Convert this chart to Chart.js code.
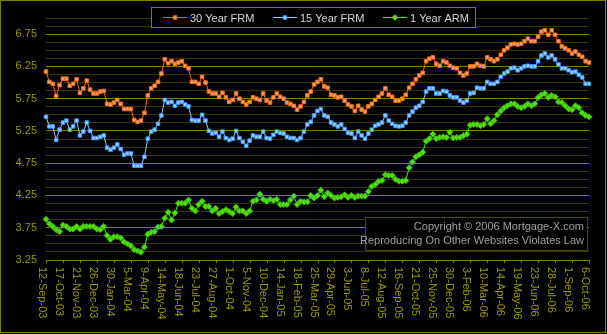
<!DOCTYPE html>
<html>
<head>
<meta charset="utf-8">
<script src="https://cdn.jsdelivr.net/npm/chart.js@4.4.1/dist/chart.umd.min.js"></script>
<style>
  html, body { margin: 0; padding: 0; background: #000; }
  #wrap { width: 607px; height: 334px; position: relative; }
  #rates { display: block; width: 607px; height: 334px; }
</style>
</head>
<body>
<div id="wrap"><canvas id="rates" width="607" height="334"></canvas></div>
<script>
// ─── DATA (weekly, 12-Sep-03 .. 6-Oct-06) ──────────────────
const frm30 = [
  6.17, 6.01, 5.98, 5.79, 5.96, 6.06, 6.06, 5.95, 5.98, 6.05, 5.84, 5.91, 6.03, 5.89, 5.83, 5.83,
  5.86, 5.87, 5.67, 5.66, 5.69, 5.73, 5.67, 5.59, 5.59, 5.59, 5.42, 5.39, 5.41, 5.53, 5.80, 5.91,
  5.95, 6.01, 6.14, 6.36, 6.30, 6.33, 6.29, 6.31, 6.33, 6.26, 6.22, 6.01, 6.01, 5.98, 6.09, 6.00,
  5.86, 5.83, 5.83, 5.78, 5.84, 5.77, 5.70, 5.73, 5.83, 5.75, 5.70, 5.66, 5.70, 5.77, 5.75, 5.73,
  5.83, 5.72, 5.69, 5.77, 5.83, 5.78, 5.75, 5.69, 5.67, 5.64, 5.58, 5.63, 5.70, 5.80, 5.86, 5.97,
  6.01, 6.05, 5.94, 5.92, 5.81, 5.80, 5.77, 5.78, 5.72, 5.66, 5.63, 5.56, 5.64, 5.58, 5.55, 5.63,
  5.67, 5.73, 5.78, 5.83, 5.91, 5.81, 5.78, 5.72, 5.72, 5.75, 5.81, 5.92, 5.98, 6.05, 6.11, 6.15,
  6.33, 6.37, 6.39, 6.29, 6.26, 6.33, 6.31, 6.26, 6.23, 6.22, 6.15, 6.11, 6.14, 6.25, 6.25, 6.29,
  6.26, 6.25, 6.39, 6.36, 6.33, 6.36, 6.43, 6.50, 6.54, 6.59, 6.60, 6.59, 6.60, 6.64, 6.68, 6.64,
  6.64, 6.71, 6.79, 6.81, 6.74, 6.81, 6.74, 6.64, 6.56, 6.53, 6.50, 6.45, 6.48, 6.43, 6.40, 6.33,
  6.31
];
const frm15 = [
  5.47, 5.32, 5.32, 5.11, 5.27, 5.38, 5.41, 5.27, 5.32, 5.41, 5.18, 5.24, 5.38, 5.25, 5.14, 5.14,
  5.16, 5.18, 4.99, 4.96, 4.99, 5.04, 4.97, 4.88, 4.90, 4.90, 4.71, 4.71, 4.71, 4.85, 5.13, 5.24,
  5.27, 5.36, 5.49, 5.73, 5.69, 5.70, 5.64, 5.69, 5.70, 5.66, 5.63, 5.42, 5.41, 5.41, 5.50, 5.41,
  5.25, 5.21, 5.22, 5.16, 5.24, 5.14, 5.11, 5.13, 5.25, 5.14, 5.08, 5.02, 5.10, 5.18, 5.16, 5.16,
  5.24, 5.14, 5.13, 5.19, 5.24, 5.22, 5.21, 5.16, 5.14, 5.14, 5.11, 5.14, 5.24, 5.35, 5.39, 5.49,
  5.56, 5.59, 5.49, 5.47, 5.38, 5.35, 5.32, 5.35, 5.28, 5.22, 5.21, 5.14, 5.24, 5.18, 5.13, 5.21,
  5.27, 5.33, 5.35, 5.38, 5.49, 5.41, 5.36, 5.33, 5.32, 5.33, 5.38, 5.49, 5.55, 5.61, 5.64, 5.70,
  5.86, 5.91, 5.91, 5.83, 5.83, 5.87, 5.86, 5.80, 5.77, 5.77, 5.72, 5.69, 5.72, 5.83, 5.84, 5.92,
  5.91, 5.91, 6.01, 5.98, 5.98, 6.01, 6.09, 6.14, 6.17, 6.22, 6.23, 6.19, 6.22, 6.25, 6.26, 6.25,
  6.25, 6.33, 6.42, 6.45, 6.39, 6.42, 6.36, 6.28, 6.22, 6.22, 6.19, 6.16, 6.17, 6.12, 6.08, 5.98,
  5.98
];
const arm1 = [
  3.88, 3.81, 3.77, 3.72, 3.69, 3.79, 3.77, 3.73, 3.73, 3.77, 3.73, 3.77, 3.77, 3.77, 3.77, 3.73,
  3.72, 3.77, 3.63, 3.57, 3.61, 3.61, 3.59, 3.53, 3.50, 3.47, 3.41, 3.39, 3.37, 3.45, 3.65, 3.68,
  3.69, 3.76, 3.77, 3.90, 3.99, 3.87, 3.98, 4.13, 4.13, 4.13, 4.18, 4.05, 4.01, 4.11, 4.16, 4.08,
  4.08, 4.01, 4.05, 3.97, 4.00, 4.03, 4.00, 3.97, 4.07, 4.01, 4.01, 3.97, 4.01, 4.16, 4.18, 4.27,
  4.19, 4.16, 4.19, 4.17, 4.19, 4.11, 4.11, 4.11, 4.18, 4.24, 4.11, 4.16, 4.15, 4.15, 4.25, 4.21,
  4.25, 4.33, 4.23, 4.29, 4.25, 4.21, 4.22, 4.23, 4.26, 4.22, 4.25, 4.22, 4.24, 4.24, 4.24, 4.31,
  4.39, 4.42, 4.47, 4.48, 4.57, 4.56, 4.56, 4.50, 4.47, 4.47, 4.48, 4.68, 4.77, 4.85, 4.88, 4.92,
  5.09, 5.13, 5.20, 5.13, 5.15, 5.16, 5.15, 5.23, 5.14, 5.15, 5.15, 5.18, 5.20, 5.34, 5.35, 5.35,
  5.33, 5.35, 5.44, 5.36, 5.41, 5.50, 5.56, 5.61, 5.64, 5.67, 5.67, 5.63, 5.61, 5.63, 5.67, 5.64,
  5.67, 5.77, 5.81, 5.83, 5.77, 5.80, 5.78, 5.70, 5.69, 5.64, 5.59, 5.58, 5.64, 5.61, 5.53, 5.49,
  5.47
];

const xTickLabels = [
  '12-Sep-03', '17-Oct-03', '21-Nov-03', '26-Dec-03', '30-Jan-04', '5-Mar-04', '9-Apr-04',
  '14-May-04', '18-Jun-04', '23-Jul-04', '27-Aug-04', '1-Oct-04', '5-Nov-04', '10-Dec-04',
  '14-Jan-05', '18-Feb-05', '25-Mar-05', '29-Apr-05', '3-Jun-05', '8-Jul-05', '12-Aug-05',
  '16-Sep-05', '21-Oct-05', '25-Nov-05', '30-Dec-05', '3-Feb-06', '10-Mar-06', '14-Apr-06',
  '19-May-06', '23-Jun-06', '28-Jul-06', '1-Sep-06', '6-Oct-06'
];
const yTickLabels = ['3.25', '3.75', '4.25', '4.75', '5.25', '5.75', '6.25', '6.75'];
const seriesNames = ['30 Year FRM', '15 Year FRM', '1 Year ARM'];
const copyrightLines = ['Copyright \u00A9 2006 Mortgage-X.com', 'Reproducing On Other Websites Violates Law'];

// weekly category labels (every Friday from the first tick date)
const MONTHS = ['Jan','Feb','Mar','Apr','May','Jun','Jul','Aug','Sep','Oct','Nov','Dec'];
const categories = frm30.map((_, i) => {
  const d = new Date(Date.UTC(2003, 8, 12) + i * 7 * 864e5);
  return `${d.getUTCDate()}-${MONTHS[d.getUTCMonth()]}-${String(d.getUTCFullYear()).slice(2)}`;
});

// ─── STYLE ─────────────────────────────────────────────────
const FONT      = '11px "Liberation Sans", Arial, sans-serif';
const OLIVE     = '#808000';
const OLIVE_TXT = '#999900';
const GRID_DIM  = '#363600';

const STYLES = [
  { line: '#ff6600', border: '#ff6600', fill: '#d8a888', shape: 'rect' },
  { line: '#99ccff', border: '#3399ff', fill: '#a8ccff', shape: 'rect' },
  { line: '#22ff00', border: '#33bb00', fill: '#55dd11', shape: 'rectRot' },
];

function drawMarker(ctx, x, y, st) {
  ctx.save();
  ctx.fillStyle = st.fill;
  ctx.strokeStyle = st.border;
  ctx.lineWidth = 1;
  ctx.beginPath();
  if (st.shape === 'rect') {
    ctx.rect(x - 1.75, y - 1.75, 3.5, 3.5);
  } else {
    ctx.moveTo(x, y - 3); ctx.lineTo(x + 3, y); ctx.lineTo(x, y + 3); ctx.lineTo(x - 3, y); ctx.closePath();
  }
  ctx.fill();
  ctx.stroke();
  ctx.restore();
}

// ─── DECORATION PLUGIN (x labels, legend, copyright, frame) ─
const decor = {
  id: 'decor',
  beforeDraw(chart) {
    const { ctx, width, height } = chart;
    ctx.save();
    ctx.fillStyle = '#000';
    ctx.fillRect(0, 0, width, height);
    ctx.restore();
  },
  afterDraw(chart) {
    const { ctx, chartArea } = chart;
    const x = chart.scales.x;
    ctx.save();
    ctx.font = FONT;

    // x ticks + clockwise-rotated labels
    ctx.strokeStyle = OLIVE;
    ctx.fillStyle = OLIVE_TXT;
    ctx.lineWidth = 1;
    ctx.textAlign = 'left';
    ctx.textBaseline = 'alphabetic';
    xTickLabels.forEach(lab => {
      const px = Math.round(x.getPixelForValue(categories.indexOf(lab))) + 0.5;
      ctx.beginPath();
      ctx.moveTo(px, chartArea.bottom);
      ctx.lineTo(px, chartArea.bottom + 3);
      ctx.stroke();
      ctx.save();
      ctx.translate(px - 7.5, chartArea.bottom + 7);
      ctx.rotate(Math.PI / 2);
      ctx.fillText(lab, 0, 0);
      ctx.restore();
    });

    // legend box
    ctx.fillStyle = '#000';
    ctx.fillRect(151, 7, 325, 21);
    ctx.strokeStyle = OLIVE;
    ctx.strokeRect(151.5, 7.5, 324, 20);
    const legendX = [163, 273, 383];
    ctx.textBaseline = 'middle';
    seriesNames.forEach((name, i) => {
      const st = STYLES[i], lx = legendX[i], ly = 17.5;
      ctx.strokeStyle = st.line;
      ctx.beginPath();
      ctx.moveTo(lx, ly);
      ctx.lineTo(lx + 24, ly);
      ctx.stroke();
      drawMarker(ctx, lx + 12, ly, st);
      ctx.fillStyle = '#d8d8d8';
      ctx.fillText(name, lx + 27, ly + 1);
    });

    // copyright box
    ctx.fillStyle = '#000';
    ctx.fillRect(365, 217, 223, 34);
    ctx.strokeStyle = '#4a4a00';
    ctx.strokeRect(365.5, 217.5, 222, 33);
    ctx.fillStyle = '#a0a0a0';
    ctx.textAlign = 'right';
    ctx.textBaseline = 'alphabetic';
    ctx.fillText(copyrightLines[0], 584, 230);
    ctx.fillText(copyrightLines[1], 584, 244);

    // outer frame
    ctx.strokeStyle = OLIVE;
    ctx.strokeRect(0.5, 0.5, 605, 332);
    ctx.restore();
  }
};

// ─── CHART ─────────────────────────────────────────────────
const seriesData = [frm30, frm15, arm1];

new Chart(document.getElementById('rates'), {
  type: 'line',
  data: {
    labels: categories,
    datasets: seriesNames.map((name, i) => ({
      label: name,
      data: seriesData[i],
      borderColor: STYLES[i].line,
      borderWidth: 1,
      pointStyle: STYLES[i].shape,
      pointRadius: STYLES[i].shape === 'rect' ? 2.5 : 3,
      pointBorderWidth: 1,
      pointBorderColor: STYLES[i].border,
      pointBackgroundColor: STYLES[i].fill,
      tension: 0,
      fill: false,
    })),
  },
  options: {
    responsive: false,
    animation: false,
    devicePixelRatio: 1,
    events: [],
    layout: { padding: { top: 18, right: 18, left: 0, bottom: 0 } },
    plugins: { legend: { display: false }, tooltip: { enabled: false } },
    scales: {
      x: {
        type: 'category',
        offset: false,
        grid: { display: false },
        border: { display: false },
        ticks: { display: false },
        afterFit: s => { s.height = 74; },
      },
      y: {
        min: 3.25,
        max: 7.0,
        afterFit: s => { s.width = 46; },
        border: { display: false },
        grid: {
          drawTicks: false,
          color: c => yTickLabels.includes(c.tick.value.toFixed(2)) ? OLIVE : GRID_DIM,
        },
        ticks: {
          stepSize: 0.125,
          autoSkip: false,
          padding: 9,
          color: OLIVE_TXT,
          font: { family: '"Liberation Sans", Arial, sans-serif', size: 11 },
          callback: v => yTickLabels.includes(Number(v).toFixed(2)) ? Number(v).toFixed(2) : '',
        },
      },
    },
  },
  plugins: [decor],
});
</script>
</body>
</html>
